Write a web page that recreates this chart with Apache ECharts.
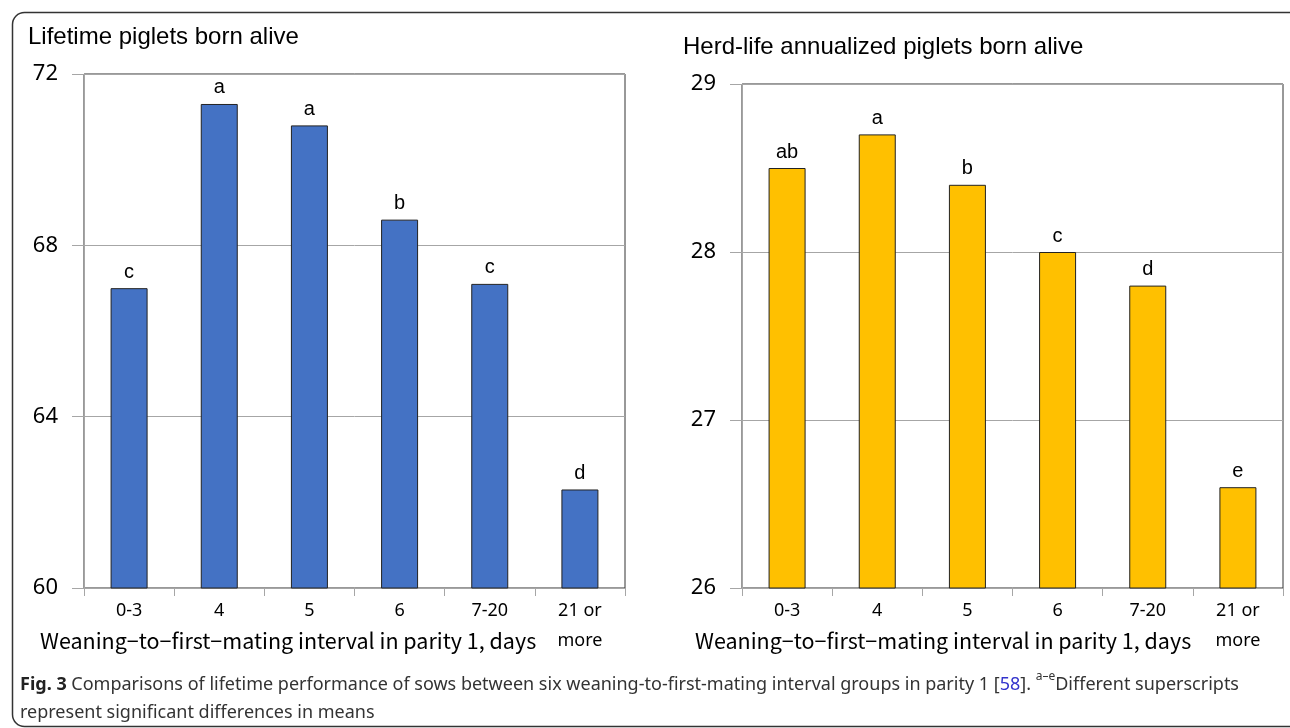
<!DOCTYPE html>
<html>
<head>
<meta charset="utf-8">
<script src="https://cdn.jsdelivr.net/npm/echarts@6/dist/echarts.min.js"></script>
<style>
  html, body { margin: 0; padding: 0; background: #fff; }
  #chart { width: 1290px; height: 728px; }
</style>
</head>
<body>
<div id="chart"></div>
<script>
// weaning-to-first-mating interval groups
const categories = ['0-3', '4', '5', '6', '7-20', '21 or\nmore']

// lifetime piglets born alive
const lifetimeValues = [67.0, 71.3, 70.8, 68.6, 67.1, 62.3]
const lifetimeLetters = ['c', 'a', 'a', 'b', 'c', 'd']

// herd-life annualized piglets born alive
const annualValues = [28.5, 28.7, 28.4, 28.0, 27.8, 26.6]
const annualLetters = ['ab', 'a', 'b', 'c', 'd', 'e']

const xName = 'Weaning\u2212to\u2212first\u2212mating interval in parity 1, days'

const chart = echarts.init(document.getElementById('chart'))

const gridLine = '#a6a6a6'

function xAxis(gridIndex) {
  return {
    type: 'category',
    gridIndex,
    data: categories,
    axisLine: { lineStyle: { color: gridLine } },
    axisTick: { show: true, length: 8, lineStyle: { color: gridLine } },
    axisLabel: { fontFamily: 'Noto Sans', fontSize: 18, color: '#000', margin: 8, lineHeight: 30, verticalAlign: 'top' },
  }
}

function yAxis(gridIndex, min, max, interval) {
  return {
    type: 'value',
    gridIndex, min, max, interval,
    axisLine: { show: true, lineStyle: { color: gridLine } },
    axisTick: { show: true, length: 12, lineStyle: { color: gridLine } },
    axisLabel: { margin: 26, fontFamily: 'Noto Sans', fontSize: 22, color: '#000' },
    splitLine: { lineStyle: { color: gridLine } },
  }
}

function barSeries(idx, values, letters, color) {
  return {
    type: 'bar',
    xAxisIndex: idx,
    yAxisIndex: idx,
    data: values,
    barWidth: 37,
    itemStyle: { color, borderColor: '#222', borderWidth: 1 },
    label: {
      show: true,
      position: 'top',
      distance: 6,
      fontFamily: 'Liberation Sans',
      fontSize: 20,
      color: '#000',
      formatter: p => letters[p.dataIndex],
    },
  }
}

const titleStyle = { fontFamily: 'Liberation Sans', fontSize: 24, fontWeight: 'normal', color: '#000' }

const option = {
  backgroundColor: '#fff',
  animation: false,
  title: [
    { text: 'Lifetime piglets born alive', left: 23, top: 20, textStyle: titleStyle },
    { text: 'Herd-life annualized piglets born alive', left: 678, top: 30, textStyle: titleStyle },
  ],
  grid: [
    { left: 84, top: 74, width: 541, height: 514, show: true, borderColor: '#333', borderWidth: 1 },
    { left: 742, top: 84, width: 541, height: 504, show: true, borderColor: '#333', borderWidth: 1 },
  ],
  xAxis: [xAxis(0), xAxis(1)],
  yAxis: [yAxis(0, 60, 72, 4), yAxis(1, 26, 29, 1)],
  series: [
    barSeries(0, lifetimeValues, lifetimeLetters, '#4472c4'),
    barSeries(1, annualValues, annualLetters, '#ffc000'),
  ],
  graphic: [
    {
      type: 'rect', left: 10, top: 10, silent: true,
      shape: { width: 1290, height: 714, r: 12 },
      style: { fill: null, stroke: '#333', lineWidth: 1.5 },
    },
    { type: 'text', left: 40, top: 630, style: { text: xName, font: '21.5px "Noto Sans CJK JP"', fill: '#000' } },
    { type: 'text', left: 695, top: 630, style: { text: xName, font: '21.5px "Noto Sans CJK JP"', fill: '#000' } },
    {
      type: 'text', left: 20, top: 671,
      style: {
        text: '{b|Fig. 3} Comparisons of lifetime performance of sows between six weaning-to-first-mating interval groups in parity 1 [{l|58}]. {s|a\u2013e}Different superscripts\nrepresent significant differences in means',
        font: '18px "Noto Sans"',
        fill: '#333',
        lineHeight: 28,
        rich: {
          b: { fontWeight: 'bold', fontSize: 18, fontFamily: 'Noto Sans', fill: '#222' },
          l: { fontSize: 18, fontFamily: 'Noto Sans', fill: '#3333cc' },
          s: { fontSize: 12, fontFamily: 'Noto Sans', fill: '#333', verticalAlign: 'top', padding: [0, 0, 8, 0] },
        },
      },
    },
  ],
}

chart.setOption(option)
</script>
</body>
</html>
